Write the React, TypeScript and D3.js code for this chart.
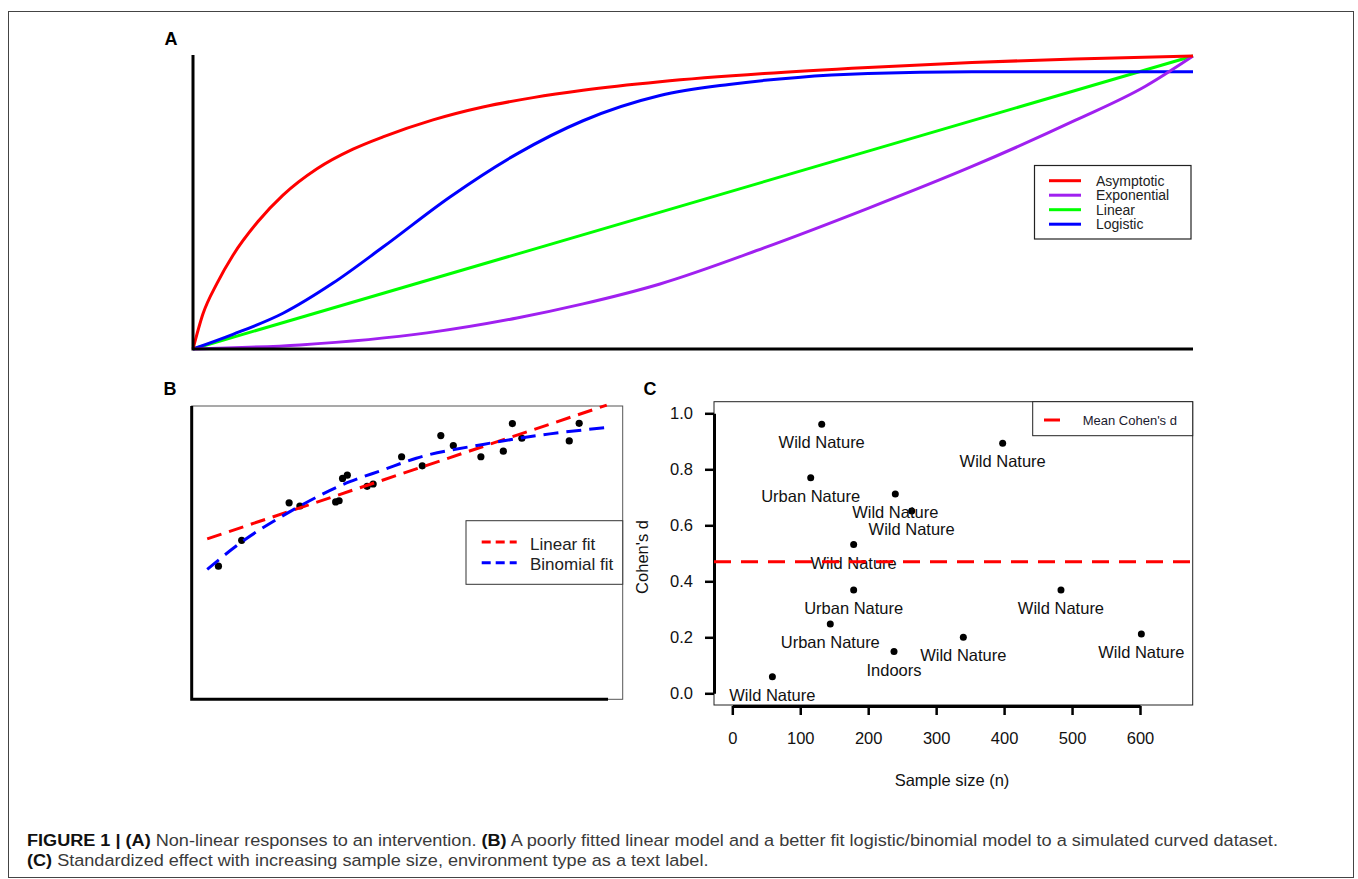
import * as d3 from "d3";
import { useEffect, useRef } from "react";

// ---- Panel A: response curves (x and y as % of the axis range) ----
const asymptoticX = [0, 1, 2.4, 4, 6.5, 9, 12.4, 16, 19, 24, 29, 34, 39, 46.7, 57.1, 67.5, 77.9, 88.2, 100];
const asymptoticY = [0, 12, 22.4, 32, 43.5, 52.5, 61.5, 68.2, 72.4, 78.2, 82.6, 85.8, 88.3, 91.2, 94, 96.1, 97.8, 99, 100];
const exponentialX = [0, 10.7, 23.4, 32.4, 39, 46.7, 57.1, 67.5, 77.9, 88.2, 95.2, 100];
const exponentialY = [0, 1.4, 5.5, 10.6, 15.4, 22.2, 34.5, 48, 62.3, 78, 89.6, 100];
const linearX = [0, 100];
const linearY = [0, 100];
const logisticX = [0, 4, 9, 14, 19, 25.7, 32.4, 39, 46.7, 53.6, 60.5, 67.5, 77.9, 100];
const logisticY = [0, 5, 12.2, 22.5, 34.8, 51.9, 66.6, 77.9, 86.5, 90.3, 92.7, 94, 94.6, 94.6];
const curveNames = ["Asymptotic", "Exponential", "Linear", "Logistic"];
const curveColors = ["#ff0000", "#a020f0", "#00ff00", "#0000ff"];

// ---- Panel B: simulated curved data and two fits ----
const simX = [6.2, 11.6, 22.6, 25.1, 33.4, 34.2, 35.0, 36.1, 40.7, 42.1, 48.7, 53.5, 57.8, 60.7, 67.1, 72.3, 74.4, 76.6, 87.6, 89.9];
const simY = [45.4, 54.2, 67.0, 65.9, 67.3, 67.7, 75.3, 76.4, 72.6, 73.4, 82.7, 79.6, 89.9, 86.5, 82.7, 84.6, 94.0, 89.0, 88.1, 94.1];
const linearFitX = [3.6, 96.3];
const linearFitY = [54.7, 100.3];
const binomialFitX = [3.6, 11.1, 22.7, 36.7, 44.4, 52.1, 67.6, 83.1, 96.6];
const binomialFitY = [44.3, 53.1, 63.9, 74.2, 78.2, 82.2, 86.9, 90.5, 92.7];
const fitNames = ["Linear fit", "Binomial fit"];
const fitColors = ["#ff0000", "#0000ff"];

// ---- Panel C: effect size vs sample size ----
const sampleSize = [59, 131.6, 115.4, 239.9, 264, 178.6, 178.6, 144.2, 238, 397.9, 483.7, 340, 602];
const cohensD = [0.059, 0.961, 0.77, 0.712, 0.651, 0.531, 0.369, 0.2475, 0.149, 0.893, 0.369, 0.2, 0.212];
const envType = [
  "Wild Nature", "Wild Nature", "Urban Nature", "Wild Nature", "Wild Nature", "Wild Nature",
  "Urban Nature", "Urban Nature", "Indoors", "Wild Nature", "Wild Nature", "Wild Nature", "Wild Nature",
];
const meanCohensD = 0.47;
const xTicksC = [0, 100, 200, 300, 400, 500, 600];
const yTicksC = [0, 0.2, 0.4, 0.6, 0.8, 1.0];

const captionLine1 = [
  { t: "FIGURE 1 | (A)", b: true },
  { t: " Non-linear responses to an intervention. ", b: false },
  { t: "(B)", b: true },
  { t: " A poorly fitted linear model and a better fit logistic/binomial model to a simulated curved dataset.", b: false },
];
const captionLine2 = [
  { t: "(C)", b: true },
  { t: " Standardized effect with increasing sample size, environment type as a text label.", b: false },
];

const FONT = "'Liberation Sans', Arial, Helvetica, sans-serif";
const zip = (xs: number[], ys: number[]) => xs.map((x, i) => [x, ys[i]] as [number, number]);

export default function App() {
  const ref = useRef<SVGSVGElement | null>(null);

  useEffect(() => {
    const svg = d3.select(ref.current);
    svg.selectAll("*").remove();
    svg.attr("font-family", FONT);

    // outer frame
    svg.append("rect")
      .attr("x", 8.5).attr("y", 11.5).attr("width", 1345).attr("height", 866)
      .attr("fill", "none").attr("stroke", "#444").attr("stroke-width", 1);

    // ================= Panel A =================
    const xA = d3.scaleLinear().domain([0, 100]).range([193, 1193]);
    const yA = d3.scaleLinear().domain([0, 100]).range([349, 56]);
    const gA = svg.append("g");
    gA.append("text").attr("x", 171).attr("y", 45).attr("text-anchor", "middle")
      .attr("font-weight", "bold").attr("font-size", 18).text("A");

    const lineA = d3.line<[number, number]>()
      .x((d) => xA(d[0])).y((d) => yA(d[1])).curve(d3.curveMonotoneX);
    const seriesA = [
      zip(asymptoticX, asymptoticY),
      zip(exponentialX, exponentialY),
      zip(linearX, linearY),
      zip(logisticX, logisticY),
    ];
    [2, 3, 1, 0].forEach((i) => {
      gA.append("path").datum(seriesA[i]).attr("d", lineA)
        .attr("fill", "none").attr("stroke", curveColors[i]).attr("stroke-width", 3);
    });
    gA.append("path")
      .attr("d", `M${xA(0)},${yA(100) - 1}V${yA(0)}H${xA(100)}`)
      .attr("fill", "none").attr("stroke", "#000").attr("stroke-width", 3);

    // legend A
    const legA = gA.append("g");
    legA.append("rect").attr("x", 1034.5).attr("y", 165.5).attr("width", 156.5).attr("height", 73.5)
      .attr("fill", "#fff").attr("stroke", "#222").attr("stroke-width", 1.2);
    curveNames.forEach((n, i) => {
      const y = 180.7 + i * 14.5;
      legA.append("line").attr("x1", 1049).attr("x2", 1081).attr("y1", y).attr("y2", y)
        .attr("stroke", curveColors[i]).attr("stroke-width", 3);
      legA.append("text").attr("x", 1096).attr("y", y + 5).attr("font-size", 14)
        .attr("fill", "#222").text(n);
    });

    // ================= Panel B =================
    const xB = d3.scaleLinear().domain([0, 100]).range([191.7, 622.7]);
    const yB = d3.scaleLinear().domain([0, 100]).range([699.3, 406]);
    const gB = svg.append("g");
    gB.append("text").attr("x", 170).attr("y", 395).attr("text-anchor", "middle")
      .attr("font-weight", "bold").attr("font-size", 18).text("B");
    gB.append("rect").attr("x", xB(0)).attr("y", yB(100)).attr("width", xB(100) - xB(0))
      .attr("height", yB(0) - yB(100)).attr("fill", "none").attr("stroke", "#555").attr("stroke-width", 1);
    gB.append("path")
      .attr("d", `M${xB(0)},${yB(100)}V${yB(0)}H${xB(96.6)}`)
      .attr("fill", "none").attr("stroke", "#000").attr("stroke-width", 3);

    const lineB = d3.line<[number, number]>()
      .x((d) => xB(d[0])).y((d) => yB(d[1])).curve(d3.curveMonotoneX);
    gB.selectAll("circle.sim").data(zip(simX, simY)).join("circle")
      .attr("cx", (d) => xB(d[0])).attr("cy", (d) => yB(d[1])).attr("r", 3.6).attr("fill", "#000");
    gB.append("path").datum(zip(linearFitX, linearFitY)).attr("d", lineB)
      .attr("fill", "none").attr("stroke", fitColors[0]).attr("stroke-width", 3)
      .attr("stroke-dasharray", "15,8");
    gB.append("path").datum(zip(binomialFitX, binomialFitY)).attr("d", lineB)
      .attr("fill", "none").attr("stroke", fitColors[1]).attr("stroke-width", 3)
      .attr("stroke-dasharray", "15,8");

    // legend B
    const legB = gB.append("g");
    legB.append("rect").attr("x", 466).attr("y", 520.7).attr("width", xB(100) - 466).attr("height", 63.6)
      .attr("fill", "#fff").attr("stroke", "#333").attr("stroke-width", 1);
    fitNames.forEach((n, i) => {
      const y = 542 + i * 20.7;
      legB.append("line").attr("x1", 481.7).attr("x2", 516.7).attr("y1", y).attr("y2", y)
        .attr("stroke", fitColors[i]).attr("stroke-width", 3).attr("stroke-dasharray", "9,5");
      legB.append("text").attr("x", 530).attr("y", y + 7.5).attr("font-size", 17)
        .attr("fill", "#222").text(n);
    });

    // ================= Panel C =================
    const xC = d3.scaleLinear().domain([0, 600]).range([732.3, 1140]);
    const yC = d3.scaleLinear().domain([0, 1]).range([693.3, 413.3]);
    const gC = svg.append("g");
    gC.append("text").attr("x", 650).attr("y", 395).attr("text-anchor", "middle")
      .attr("font-weight", "bold").attr("font-size", 18).text("C");
    gC.append("rect").attr("x", 714).attr("y", 401.7).attr("width", 1192.7 - 714).attr("height", 705 - 401.7)
      .attr("fill", "none").attr("stroke", "#222").attr("stroke-width", 1);

    const axB = gC.append("g").attr("transform", "translate(0,706)")
      .call(d3.axisBottom(xC).tickValues(xTicksC).tickSizeInner(9).tickSizeOuter(0).tickPadding(17)
        .tickFormat(d3.format("d")));
    const axL = gC.append("g").attr("transform", "translate(714,0)")
      .call(d3.axisLeft(yC).tickValues(yTicksC).tickSizeInner(9).tickSizeOuter(0).tickPadding(12)
        .tickFormat(d3.format(".1f")));
    [axB, axL].forEach((ax) => {
      ax.attr("font-family", FONT).attr("font-size", 16.5);
      ax.select(".domain").attr("stroke-width", 3);
      ax.selectAll(".tick line").attr("stroke-width", 2.5);
      ax.selectAll(".tick text").attr("fill", "#111");
    });

    gC.append("text").attr("x", 952).attr("y", 786).attr("text-anchor", "middle")
      .attr("font-size", 16.5).attr("fill", "#111").text("Sample size (n)");
    gC.append("text").attr("transform", "translate(648,557) rotate(-90)").attr("text-anchor", "middle")
      .attr("font-size", 16.5).attr("fill", "#111").text("Cohen's d");

    const ptsC = sampleSize.map((n, i) => ({ n, d: cohensD[i], label: envType[i] }));
    gC.selectAll("circle.c").data(ptsC).join("circle")
      .attr("cx", (d) => xC(d.n)).attr("cy", (d) => yC(d.d)).attr("r", 3.5).attr("fill", "#000");
    gC.selectAll("text.lab").data(ptsC).join("text")
      .attr("x", (d) => xC(d.n)).attr("y", (d) => yC(d.d) + 24).attr("text-anchor", "middle")
      .attr("font-size", 16.5).attr("fill", "#111").text((d) => d.label);

    gC.append("line").attr("x1", 714).attr("x2", 1192.7)
      .attr("y1", yC(meanCohensD)).attr("y2", yC(meanCohensD))
      .attr("stroke", "#ff0000").attr("stroke-width", 3).attr("stroke-dasharray", "17,10");

    // legend C
    const legC = gC.append("g");
    legC.append("rect").attr("x", 1032.7).attr("y", 401.7).attr("width", 160).attr("height", 34)
      .attr("fill", "#fff").attr("stroke", "#222").attr("stroke-width", 1);
    legC.append("line").attr("x1", 1044).attr("x2", 1060).attr("y1", 420).attr("y2", 420)
      .attr("stroke", "#ff0000").attr("stroke-width", 3);
    legC.append("text").attr("x", 1082.7).attr("y", 425).attr("font-size", 13)
      .attr("fill", "#1a1a2e").text("Mean Cohen's d");

    // ================= Caption =================
    const cap = svg.append("g").attr("font-family", FONT);
    const t1 = cap.append("text").attr("y", 846).attr("font-size", 17);
    captionLine1.forEach((s) =>
      t1.append("tspan").attr("font-weight", s.b ? "bold" : "normal")
        .attr("fill", s.b ? "#111" : "#3a3a3a").text(s.t));
    const t2 = cap.append("text").attr("y", 866).attr("font-size", 17);
    captionLine2.forEach((s) =>
      t2.append("tspan").attr("font-weight", s.b ? "bold" : "normal")
        .attr("fill", s.b ? "#111" : "#3a3a3a").text(s.t));
    const w1 = (t1.node() as SVGTextElement).getComputedTextLength();
    const k = w1 > 0 ? 1252 / w1 : 1;
    cap.attr("transform", `translate(27,0) scale(${k},1)`);
  }, []);

  return (
    <svg
      ref={ref}
      width={1358}
      height={879}
      style={{ position: "absolute", left: 0, top: 0, background: "#fff" }}
    ></svg>
  );
}
